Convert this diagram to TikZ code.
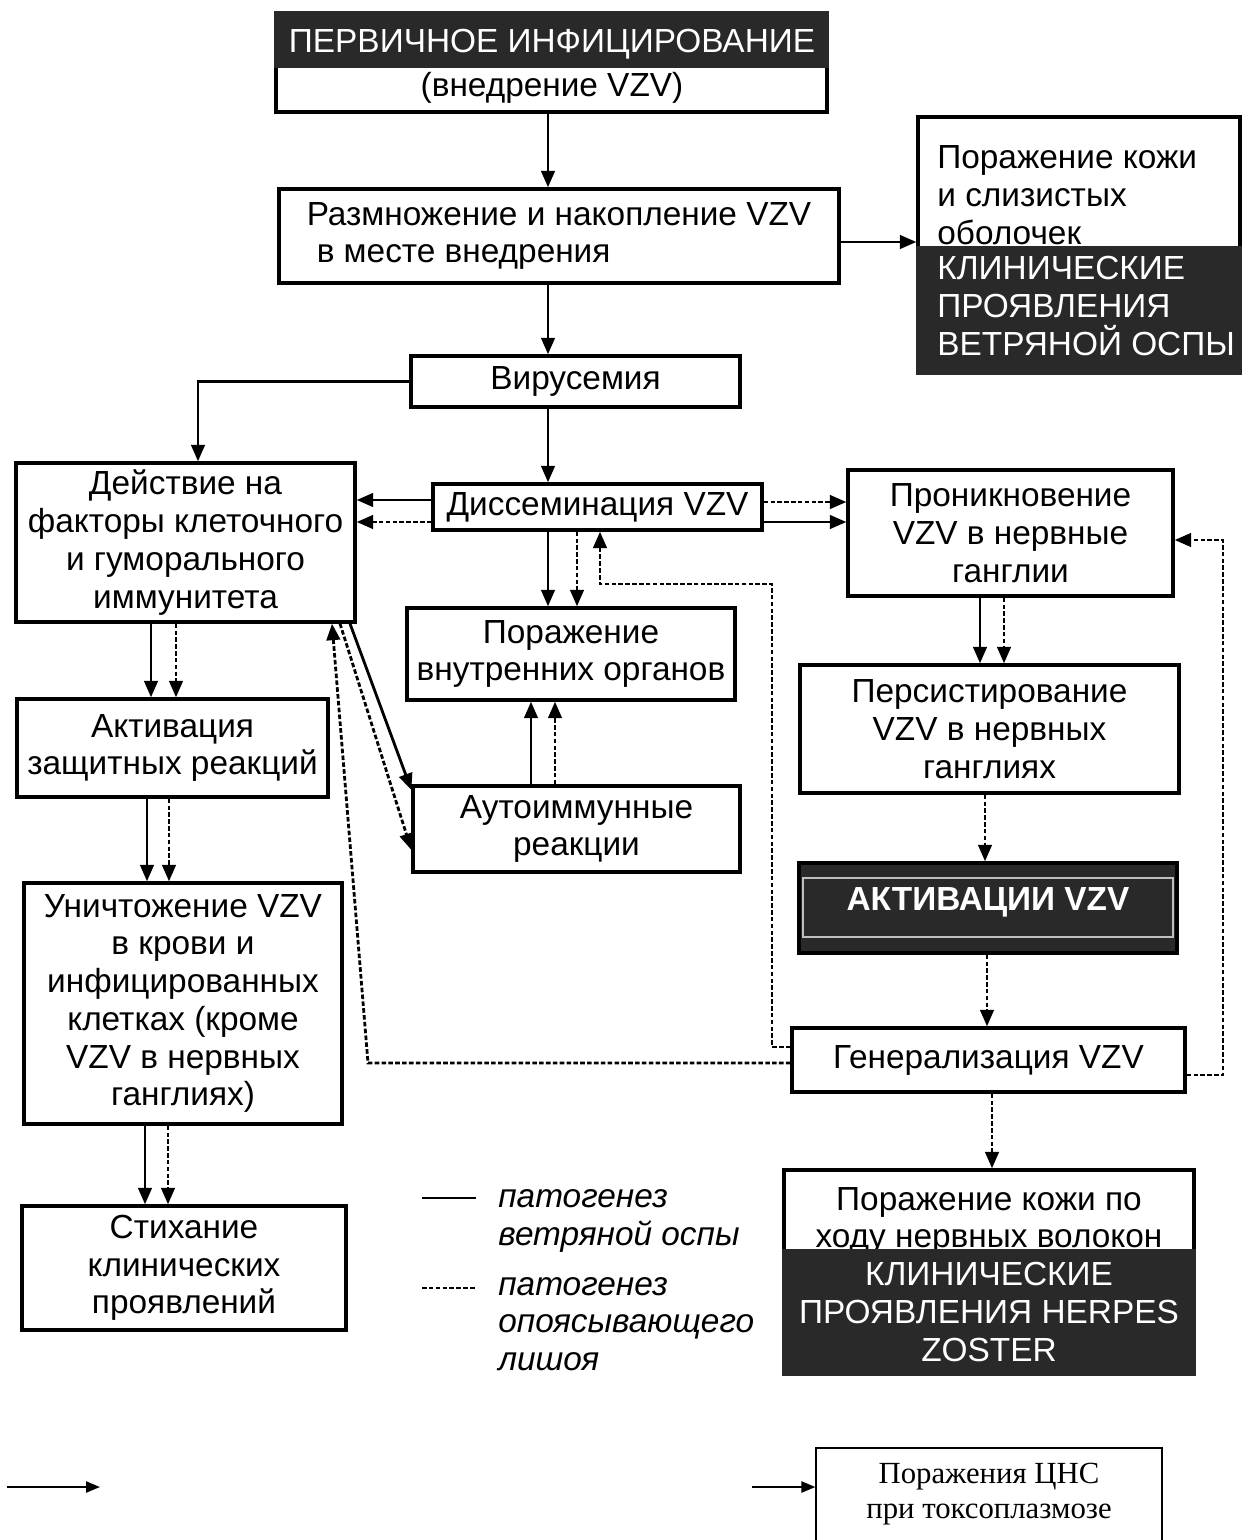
\documentclass[tikz,border=0pt]{standalone}
\usepackage{fontspec}
\setmainfont{Liberation Sans}
\newfontfamily\serifshr{Liberation Serif}
\usetikzlibrary{arrows.meta, calc}

\tikzset{
  blok/.style={draw, line width=1.9pt, inner sep=2pt, align=center, font=\fontsize{19}{21.5}\selectfont},
  tekst/.style={inner sep=0pt, font=\fontsize{19}{21.5}\selectfont},
  temno/.style={fill=black!84},
  sploshn/.style={line width=1.6pt, -{Triangle[length=0.33cm, width=0.27cm]}},
  punktir/.style={sploshn, dash pattern=on 2.6pt off 1.3pt},
  tonk/.style={line width=1.3pt, -{Triangle[length=0.28cm, width=0.22cm]}},
}

\begin{document}
\begin{tikzpicture}[x=0.02cm, y=-0.02cm]
        \useasboundingbox (0,0) rectangle (1245,1540);
        \clip (0,0) rectangle (1245,1540);
        \fill[white] (0,0) rectangle (1245,1540);

        \node[blok, minimum width=11.02cm, minimum height=1.98cm] (perv) at (551.5,62.5) {};
        \fill[temno] (perv.north west) rectangle (perv.east |- 0,68);
        \node[tekst, text=white] at (552,44) {ПЕРВИЧНОЕ ИНФИЦИРОВАНИЕ};
        \node[tekst] at (552,88) {(внедрение VZV)};

        \node[blok, minimum width=11.2cm, minimum height=1.88cm, align=left] (razm) at (559,236) {Размножение и накопление VZV\\\hspace*{0.2cm}в месте внедрения};

        \node[blok, minimum width=6.44cm, minimum height=5.12cm] (kozha) at (1079,245) {};
        \node[tekst, anchor=west, align=left] at (937,195) {Поражение кожи\\и слизистых\\оболочек};
        \fill[temno] (kozha.west |- 0,246) rectangle (kozha.south east);
        \node[tekst, anchor=west, align=left, text=white] at (937,306) {КЛИНИЧЕСКИЕ\\ПРОЯВЛЕНИЯ\\ВЕТРЯНОЙ ОСПЫ};

        \node[blok, minimum width=6.58cm, minimum height=1.02cm] (virus) at (575.5,381.5) {Вирусемия};
        \node[blok, minimum width=6.78cm, minimum height=3.18cm] (deyst) at (185.5,542.5) {Действие на\\факторы клеточного\\и гуморального\\иммунитета};
        \node[blok, minimum width=6.58cm, minimum height=0.92cm] (dissem) at (597.5,507) {Диссеминация VZV};
        \node[blok, minimum width=6.5cm, minimum height=2.52cm] (pronik) at (1010.5,533) {Проникновение\\VZV в нервные\\ганглии};
        \node[blok, minimum width=6.56cm, minimum height=1.84cm] (porvn) at (571,654) {Поражение\\внутренних органов};
        \node[blok, minimum width=6.54cm, minimum height=1.72cm] (auto) at (576.5,829) {Аутоиммунные\\реакции};
        \node[blok, minimum width=6.22cm, minimum height=1.96cm] (aktiv) at (172.5,748) {Активация\\защитных реакций};
        \node[blok, minimum width=6.36cm, minimum height=4.82cm] (unich) at (183,1003.5) {Уничтожение VZV\\в крови и\\инфицированных\\клетках (кроме\\VZV в нервных\\ганглиях)};
        \node[blok, minimum width=6.48cm, minimum height=2.48cm] (stih) at (184,1268) {Стихание\\клинических\\проявлений};
        \node[blok, minimum width=7.58cm, minimum height=2.56cm] (pers) at (989.5,729) {Персистирование\\VZV в нервных\\ганглиях};

        \node[blok, minimum width=7.56cm, minimum height=1.8cm, temno] (reakt) at (988,908) {};
        \draw[black!25, line width=0.6pt] (803,878) rectangle (1173,937);
        \node[tekst, text=white, font=\fontsize{19}{21.5}\selectfont\bfseries] at (988,902) {АКТИВАЦИИ VZV};

        \node[blok, minimum width=7.86cm, minimum height=1.28cm] (gener) at (988.5,1060) {Генерализация VZV};

        \node[blok, minimum width=8.2cm, minimum height=4.08cm] (herpes) at (989,1272) {};
        \node[tekst, align=center] at (989,1221) {Поражение кожи по\\ходу нервных волокон};
        \fill[temno] (herpes.west |- 0,1249) rectangle (herpes.south east);
        \node[tekst, text=white, align=center] at (989,1312) {КЛИНИЧЕСКИЕ\\ПРОЯВЛЕНИЯ HERPES\\ZOSTER};

        \node[draw, line width=0.7pt, minimum width=6.92cm, minimum height=2.64cm] (toxo) at (989,1514) {};
        \node[inner sep=0pt, align=center, font=\serifshr\fontsize{17.5}{19.8}\selectfont] at (989,1494) {Поражения ЦНС\\при токсоплазмозе};

        \draw[sploshn] (perv.south -| 548,0) -- (razm.north -| 548,0);
        \draw[sploshn] (razm.east |- 0,242) -- (kozha.west |- 0,242);
        \draw[sploshn] (razm.south -| 548,0) -- (virus.north -| 548,0);
        \draw[sploshn] (virus.west) -| (deyst.north -| 198,0);
        \draw[sploshn] (virus.south -| 548,0) -- (dissem.north -| 548,0);

        \draw[sploshn] (dissem.west |- 0,500) -- (deyst.east |- 0,500);
        \draw[punktir] (dissem.west |- 0,522) -- (deyst.east |- 0,522);
        \draw[punktir] (dissem.east |- 0,502) -- (pronik.west |- 0,502);
        \draw[sploshn] (dissem.east |- 0,522) -- (pronik.west |- 0,522);
        \draw[sploshn] (dissem.south -| 548,0) -- (porvn.north -| 548,0);
        \draw[punktir] (dissem.south -| 577,0) -- (porvn.north -| 577,0);

        \draw[sploshn] (auto.north -| 531,0) -- (porvn.south -| 531,0);
        \draw[punktir] (auto.north -| 555,0) -- (porvn.south -| 555,0);
        \draw[sploshn] (deyst.south -| 350,0) -- (auto.west |- 0,790);
        \draw[punktir] (deyst.south -| 340,0) -- (auto.west |- 0,850);

        \draw[sploshn] (deyst.south -| 151,0) -- (aktiv.north -| 151,0);
        \draw[punktir] (deyst.south -| 176,0) -- (aktiv.north -| 176,0);
        \draw[sploshn] (aktiv.south -| 147,0) -- (unich.north -| 147,0);
        \draw[punktir] (aktiv.south -| 169,0) -- (unich.north -| 169,0);
        \draw[sploshn] (unich.south -| 145,0) -- (stih.north -| 145,0);
        \draw[punktir] (unich.south -| 168,0) -- (stih.north -| 168,0);

        \draw[sploshn] (pronik.south -| 980,0) -- (pers.north -| 980,0);
        \draw[punktir] (pronik.south -| 1004,0) -- (pers.north -| 1004,0);
        \draw[punktir] (pers.south -| 985,0) -- (reakt.north -| 985,0);
        \draw[punktir] (reakt.south -| 987,0) -- (gener.north -| 987,0);
        \draw[punktir] (gener.south -| 992,0) -- (herpes.north -| 992,0);

        \draw[punktir] (gener.west |- 0,1047) -| (772,584) -| (dissem.south -| 600,0);
        \draw[punktir] (gener.west |- 0,1063) -- (368,1063) -- (deyst.south -| 332,0);
        \draw[punktir] (gener.east |- 0,1075) -- (1223,1075) |- (pronik.east |- 0,540);

        \draw[line width=1.6pt] (422,1198) -- (476,1198);
        \node[tekst, anchor=west, align=left, font=\fontsize{19}{21.5}\selectfont\itshape] at (498,1221) {патогенез\\ветряной оспы};
        \draw[line width=1.6pt, dash pattern=on 2.6pt off 1.3pt] (422,1288) -- (476,1288);
        \node[tekst, anchor=west, align=left, font=\fontsize{19}{21.5}\selectfont\itshape] at (498,1324) {патогенез\\опоясывающего\\лишоя};

        \coordinate (nach1) at (7,1487);
        \coordinate (kon1) at (100,1487);
        \draw[tonk] (nach1) -- (kon1);
        \coordinate (nach2) at (752,1487);
        \draw[tonk] (nach2) -- (toxo.west |- nach2);
    \end{tikzpicture}
\end{document}
